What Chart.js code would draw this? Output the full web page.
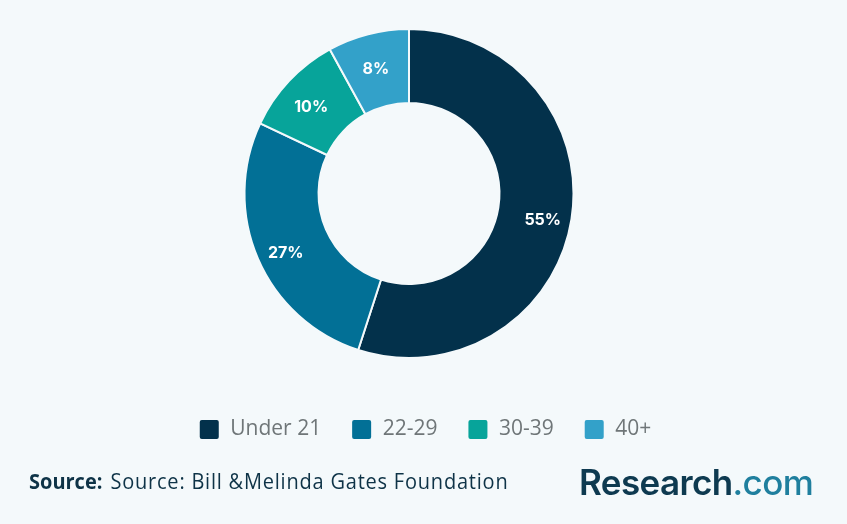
<!DOCTYPE html>
<html>
<head>
<meta charset="utf-8">
<script src="https://cdn.jsdelivr.net/npm/chart.js@4"></script>
<style>
    html, body { margin: 0; padding: 0; background: #f4f9fb; }
    #wrap { position: relative; width: 847px; height: 524px; overflow: hidden; }
    #source { position: absolute; left: 29px; top: 466px; font: 21.5px "Open Sans", sans-serif; color: #0e3347; white-space: nowrap; transform: scaleX(0.93); transform-origin: left center; }
    #source b { font-weight: 700; }
    #source span { margin-left: 3px; letter-spacing: 0.85px; }
    #logo { position: absolute; left: 579px; top: 461px; font: 600 35px Inter, sans-serif; color: #0e3a50; letter-spacing: -0.6px; white-space: nowrap; }
    #logo span { color: #1f7f9e; font-weight: 500; }
</style>
</head>
<body>
<div id="wrap">
    <canvas id="donutChart" width="847" height="524"></canvas>
    <div id="source"><b>Source:</b> <span>Source: Bill &amp;Melinda Gates Foundation</span></div>
    <div id="logo">Research<span>.com</span></div>
</div>
<script>
const categories = ['Under 21', '22-29', '30-39', '40+'];
const shares = [55, 27, 10, 8];
const colors = ['#03314b', '#027096', '#07a49a', '#33a1c9'];

// writes the percent on each slice, a bit outside the middle of the ring
const sliceLabels = {
    id: 'sliceLabels',
    afterDatasetsDraw(chart) {
        const ctx = chart.ctx;
        ctx.save();
        ctx.font = '700 16px Inter, sans-serif';
        ctx.fillStyle = '#ffffff';
        ctx.textAlign = 'center';
        ctx.textBaseline = 'middle';
        chart.getDatasetMeta(0).data.forEach((arc, i) => {
            const mid = (arc.startAngle + arc.endAngle) / 2;
            const r = arc.innerRadius + (arc.outerRadius - arc.innerRadius) * 0.6;
            ctx.fillText(shares[i] + '%', arc.x + Math.cos(mid) * r + 0.5, arc.y + Math.sin(mid) * r + 6);
        });
        ctx.restore();
    }
};

// the legend sits lower than the layout puts it, and centred on the page not the ring
const legendMove = {
    id: 'legendMove',
    afterLayout(chart) {
        const legend = chart.legend;
        legend.top += 30;
        legend.bottom += 30;
        legend.left += 16;
        legend.right += 16;
    }
};

new Chart(document.getElementById('donutChart'), {
    type: 'doughnut',
    data: {
        labels: categories,
        datasets: [{
            data: shares,
            backgroundColor: colors,
            borderColor: '#f4f9fb',
            borderWidth: 2
        }]
    },
    options: {
        responsive: false,
        animation: false,
        cutout: '55%',
        layout: { padding: { top: 28, bottom: 104, right: 29 } },
        plugins: {
            tooltip: { enabled: false },
            legend: {
                position: 'bottom',
                labels: {
                    boxWidth: 21,
                    boxHeight: 21,
                    padding: 30,
                    color: '#6f7678',
                    font: { family: '"Open Sans", sans-serif', size: 21 },
                    useBorderRadius: true,
                    borderRadius: 3
                }
            }
        }
    },
    plugins: [sliceLabels, legendMove]
});
</script>
</body>
</html>
